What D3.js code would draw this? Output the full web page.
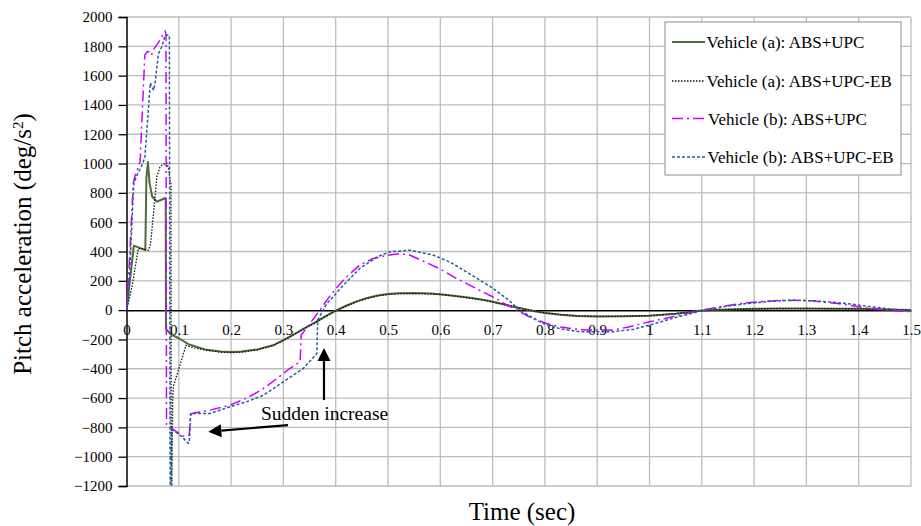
<!DOCTYPE html>
<html><head><meta charset="utf-8">
<script src="https://cdn.jsdelivr.net/npm/d3@7"></script>
<style>
html,body{margin:0;padding:0;background:#fff;}
svg{display:block;font-family:"Liberation Serif","Times New Roman",serif;}
svg text{font-family:"Liberation Serif","Times New Roman",serif;}
</style></head>
<body><svg id="chart" width="921" height="526"></svg>
<script>
// ---------- DATA ----------
const xTicks = [0,0.1,0.2,0.3,0.4,0.5,0.6,0.7,0.8,0.9,1,1.1,1.2,1.3,1.4,1.5];
const yTicks = [-1200,-1000,-800,-600,-400,-200,0,200,400,600,800,1000,1200,1400,1600,1800,2000];
const seriesNames = ["Vehicle (a): ABS+UPC","Vehicle (a): ABS+UPC-EB","Vehicle (b): ABS+UPC","Vehicle (b): ABS+UPC-EB"];

const aUpcT = [0,0.005,0.014,0.025,0.036,0.038,0.041,0.044,0.049,0.058,0.068,0.074,0.075,0.0755,0.085,0.1,0.12,0.15,0.18,0.2,0.22,0.25,0.28,0.3,0.32,0.34,0.36,0.38,0.4,0.42,0.44,0.46,0.48,0.5,0.52,0.55,0.58,0.6,0.63,0.66,0.69,0.72,0.75,0.78,0.8,0.83,0.86,0.9,0.95,1.0,1.05,1.1,1.15,1.2,1.25,1.3,1.35,1.4,1.45,1.5];
const aUpcV = [0,150,440,425,410,900,1010,870,775,740,755,765,760,-130,-165,-192,-235,-268,-282,-285,-282,-268,-240,-205,-165,-125,-85,-42,-3,30,60,83,100,110,115,116,113,108,97,82,65,40,15,-8,-20,-32,-40,-43,-42,-38,-25,-3,5,9,11,11,10,9,5,0];

const aEbT = [0,0.01,0.0226,0.03,0.042,0.046,0.051,0.058,0.064,0.07,0.077,0.081,0.083,0.085,0.0855,0.0885,0.0894,0.1138,0.12,0.13,0.15,0.18,0.2,0.22,0.25,0.28,0.3,0.32,0.34,0.36,0.38,0.4,0.42,0.44,0.46,0.48,0.5,0.52,0.55,0.58,0.6,0.63,0.66,0.69,0.72,0.75,0.78,0.8,0.83,0.86,0.9,0.95,1.0,1.05,1.1,1.15,1.2,1.3,1.4,1.5];
const aEbV = [0,150,420,418,408,450,636,909,977,995,1004,960,886,870,-1400,-600,-523,-240,-248,-258,-272,-287,-290,-287,-272,-243,-208,-168,-127,-87,-45,-6,27,57,80,97,107,112,113,111,106,95,80,63,42,17,-6,-18,-30,-38,-42,-42,-37,-24,-4,5,9,11,9,0];

const bUpcT = [0,0.005,0.013,0.0157,0.026,0.035,0.04,0.045,0.048,0.051,0.06,0.068,0.074,0.0755,0.0765,0.08,0.096,0.109,0.112,0.12,0.1227,0.13,0.153,0.18,0.2,0.23,0.26,0.29,0.31,0.332,0.334,0.35,0.36,0.37,0.383,0.4,0.42,0.446,0.47,0.5,0.52,0.54,0.567,0.6,0.631,0.67,0.7,0.72,0.746,0.77,0.803,0.83,0.854,0.88,0.93,0.96,1.0,1.05,1.1,1.15,1.186,1.22,1.262,1.31,1.36,1.409,1.45,1.5];
const bUpcV = [0,300,864,909,1010,1740,1765,1760,1740,1775,1820,1870,1905,1880,-780,-790,-830,-860,-864,-852,-710,-700,-688,-665,-645,-600,-540,-460,-405,-352,-170,-95,-47,0,68,145,225,307,350,375,385,378,335,280,216,145,91,50,0,-45,-91,-115,-128,-136,-136,-115,-80,-40,0,32,50,60,68,64,45,18,2,-11];

const bEbT = [0,0.004,0.0138,0.02,0.0296,0.035,0.0455,0.049,0.052,0.055,0.061,0.068,0.0736,0.0807,0.082,0.0835,0.0862,0.0864,0.1,0.109,0.118,0.12,0.1227,0.16,0.198,0.23,0.262,0.3,0.338,0.364,0.3655,0.383,0.395,0.408,0.446,0.48,0.504,0.542,0.587,0.62,0.65,0.68,0.701,0.73,0.752,0.78,0.803,0.83,0.867,0.93,0.97,1.0,1.05,1.1,1.15,1.186,1.23,1.28,1.33,1.377,1.42,1.46,1.5];
const bEbV = [0,91,864,920,989,1040,1550,1520,1500,1560,1750,1800,1875,1878,1870,-1400,-1400,-818,-845,-875,-909,-905,-705,-705,-659,-625,-580,-489,-398,-296,-68,45,90,145,284,365,398,409,375,325,261,195,148,70,0,-60,-102,-128,-148,-148,-130,-102,-50,-5,28,45,60,68,60,45,25,8,-5];

// annotation anchors (data coords)
const annText = "Sudden increase";
const annTextPos = [0.257, -750];
const arrowUp = [[0.3776,-613],[0.3776,-259]];
const arrowLeft = [[0.3088,-784],[0.1564,-830]];

// ---------- STYLE ----------
const styles = [
  {color:"#4e6b3a", width:2,   dash:null},
  {color:"#111111", width:1.3, dash:"1.5,1.5"},
  {color:"#cc00ff", width:1.5, dash:"11,4,2,4"},
  {color:"#2a5b9b", width:1.5, dash:"3,2"}
];
const seriesData = [
  d3.zip(aUpcT,aUpcV), d3.zip(aEbT,aEbV), d3.zip(bUpcT,bUpcV), d3.zip(bEbT,bEbV)
];

// ---------- LAYOUT ----------
const L=126.5, R=911, T=17, B=486;
const FONT = '"Liberation Serif","Times New Roman",serif';
const svg = d3.select("#chart");
const x = d3.scaleLinear().domain([0,1.5]).range([L,R]);
const y = d3.scaleLinear().domain([-1200,2000]).range([B,T]);

svg.append("defs").append("clipPath").attr("id","clip")
  .append("rect").attr("x",L).attr("y",T).attr("width",R-L).attr("height",B-T);

// grid
const grid = svg.append("g");
grid.selectAll("line.v").data(xTicks.slice(1)).join("line")
  .attr("x1",d=>x(d)).attr("x2",d=>x(d)).attr("y1",T).attr("y2",B)
  .attr("stroke","#bcbcbc").attr("stroke-width",1.3);
grid.selectAll("line.h").data(yTicks.filter(d=>d!==0)).join("line")
  .attr("x1",L).attr("x2",R).attr("y1",d=>y(d)).attr("y2",d=>y(d))
  .attr("stroke","#bcbcbc").attr("stroke-width",1.3);

// y axis
const yAxis = d3.axisLeft(y).tickValues(yTicks).tickSize(8).tickPadding(6).tickFormat(d3.format("d"));
const ya = svg.append("g").attr("transform",`translate(${L},0)`).call(yAxis)
  .attr("font-family",FONT).attr("font-size",15);
ya.select(".domain").attr("stroke","#000").attr("stroke-width",1.5);
ya.selectAll(".tick line").attr("stroke","#000").attr("stroke-width",1.3);
ya.selectAll(".tick text").attr("fill","#000");

// zero line (x axis)
const xAxis = d3.axisBottom(x).tickValues(xTicks).tickSize(0).tickPadding(14)
  .tickFormat(d=>String(d));
const xa = svg.append("g").attr("transform",`translate(0,${y(0)})`).call(xAxis)
  .attr("font-family",FONT).attr("font-size",15);
xa.select(".domain").attr("stroke","#000").attr("stroke-width",1.5);
xa.selectAll(".tick text").attr("fill","#000");

// series
const line = d3.line().x(d=>x(d[0])).y(d=>y(d[1]));
const plot = svg.append("g").attr("clip-path","url(#clip)");
seriesData.forEach((s,i)=>{
  plot.append("path").datum(s).attr("d",line).attr("fill","none")
    .attr("stroke",styles[i].color).attr("stroke-width",styles[i].width)
    .attr("stroke-dasharray",styles[i].dash).attr("stroke-linejoin","round");
});

// annotations
function arrow(p){
  const [x1,y1]=[x(p[0][0]),y(p[0][1])], [x2,y2]=[x(p[1][0]),y(p[1][1])];
  const a=Math.atan2(y2-y1,x2-x1), hl=13, hw=6.5;
  const bx=x2-hl*Math.cos(a), by=y2-hl*Math.sin(a);
  svg.append("line").attr("x1",x1).attr("y1",y1).attr("x2",bx).attr("y2",by)
    .attr("stroke","#000").attr("stroke-width",2.2);
  svg.append("path").attr("d",`M${x2},${y2}L${bx+hw*Math.sin(a)},${by-hw*Math.cos(a)}L${bx-hw*Math.sin(a)},${by+hw*Math.cos(a)}Z`)
    .attr("fill","#000");
}
arrow(arrowUp); arrow(arrowLeft);
svg.append("text").attr("x",x(annTextPos[0])).attr("y",y(annTextPos[1]))
  .attr("font-family",FONT).attr("font-size",19.5).text(annText);

// axis titles
svg.append("text").attr("transform",`translate(31,244) rotate(-90)`).attr("text-anchor","middle")
  .attr("font-family",FONT).attr("font-size",25)
  .html('Pitch acceleration (deg/s<tspan baseline-shift="super" font-size="15">2</tspan>)');
svg.append("text").attr("x",522).attr("y",520).attr("text-anchor","middle")
  .attr("font-family",FONT).attr("font-size",25).text("Time (sec)");

// legend
const lg = svg.append("g").attr("font-family",FONT);
lg.append("rect").attr("x",665).attr("y",22).attr("width",236).attr("height",153)
  .attr("fill","#fff").attr("stroke","#a6a6a6").attr("stroke-width",1.3);
const ly = [42,81,118.5,157];
const lx = [706.5,706.5,708,707.5];
seriesNames.forEach((n,i)=>{
  lg.append("line").attr("x1",672).attr("x2",705).attr("y1",ly[i]).attr("y2",ly[i])
    .attr("stroke",styles[i].color).attr("stroke-width",styles[i].width)
    .attr("stroke-dasharray",styles[i].dash);
  lg.append("text").attr("x",lx[i]).attr("y",ly[i]+6).attr("font-size",17).text(n);
});
</script>
</body></html>
